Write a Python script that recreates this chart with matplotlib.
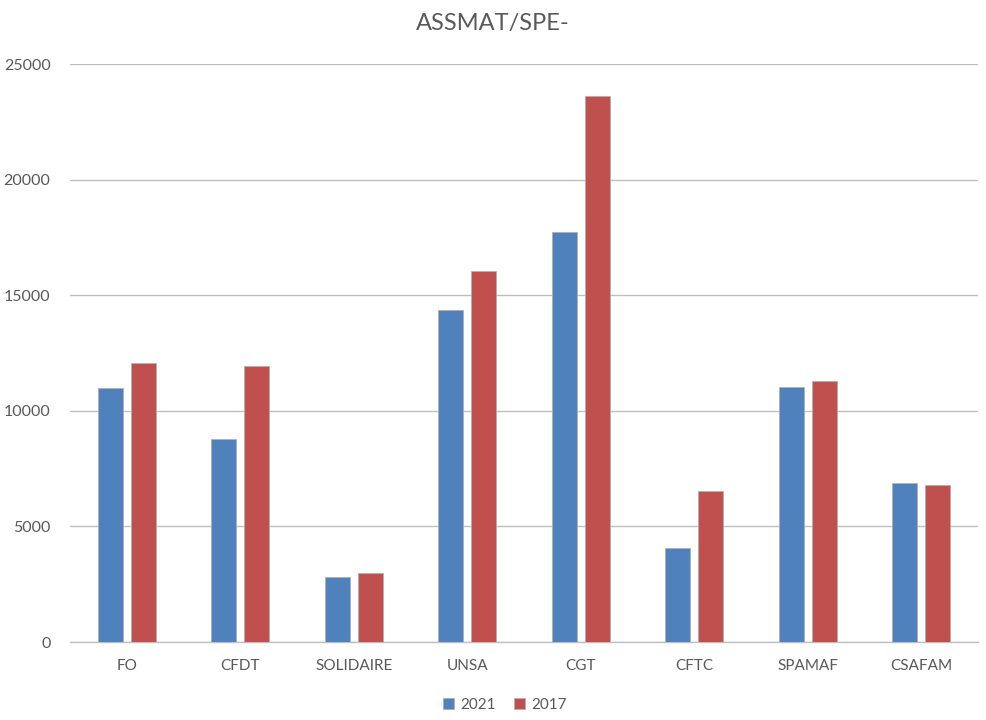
import matplotlib
matplotlib.use("Agg")
import matplotlib.pyplot as plt
import numpy as np

categories = ["FO", "CFDT", "SOLIDAIRE", "UNSA", "CGT", "CFTC", "SPAMAF", "CSAFAM"]
values_2021 = [11000, 8780, 2815, 14380, 17740, 4065, 11050, 6880]
values_2017 = [12050, 11960, 2990, 16030, 23600, 6535, 11300, 6795]

plt.rcParams['font.family'] = ['Lato', 'DejaVu Sans']

fig = plt.figure(figsize=(9.86, 7.2), dpi=100)
ax = fig.add_axes([0.071, 0.1083, 0.921, 0.8028])

x = np.arange(len(categories))
width = 0.22
off = 0.145
ax.bar(x - off, values_2021, width, color="#4F81BD", edgecolor="#b0b0b0",
       linewidth=0.6, label="2021", zorder=3)
ax.bar(x + off, values_2017, width, color="#C0504D", edgecolor="#b0b0b0",
       linewidth=0.6, label="2017", zorder=3)

ax.set_xlim(-0.5, len(categories) - 0.5)
ax.set_ylim(0, 25000)
ax.set_yticks(np.arange(0, 25001, 5000))
ax.set_xticks(x)
ax.set_xticklabels(categories)
ax.yaxis.grid(True, color="#bfbfbf", linewidth=1.0, zorder=0)
ax.set_axisbelow(True)
for s in ["top", "right", "left"]:
    ax.spines[s].set_visible(False)
ax.spines["bottom"].set_color("#bfbfbf")
ax.spines["bottom"].set_linewidth(1.0)
ax.tick_params(axis="both", length=0, colors="#595959")
ax.tick_params(axis="y", pad=14, labelsize=11.5)
ax.tick_params(axis="x", pad=12, labelsize=11)

fig.suptitle("ASSMAT/SPE-", y=0.982, fontsize=17, color="#595959")

leg = fig.legend(loc="center", bbox_to_anchor=(0.512, 0.021), ncol=2, frameon=False,
                 fontsize=11, handlelength=0.7, handleheight=0.7,
                 handletextpad=0.4, columnspacing=1.2)
for t in leg.get_texts():
    t.set_color("#595959")

fig.savefig("out.png", dpi=100)
